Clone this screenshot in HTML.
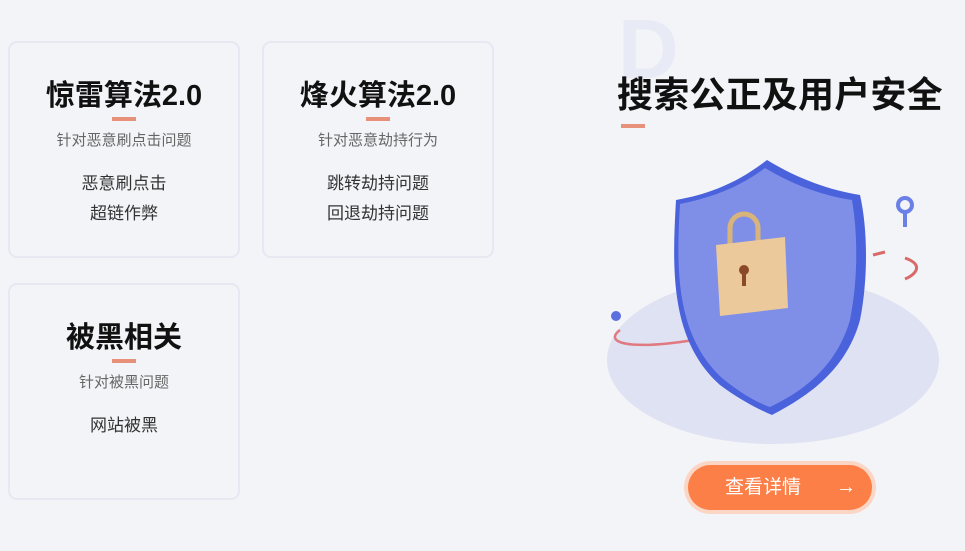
<!DOCTYPE html>
<html><head><meta charset="utf-8"><style>
body{margin:0;width:965px;height:551px;background:#f3f4f8;position:relative;overflow:hidden;font-family:"Liberation Sans","Noto Sans CJK SC",sans-serif}
.card{position:absolute;width:228px;height:213px;border:2px solid #e6e8f2;border-radius:9px;box-sizing:content-box;text-align:center}
.t{position:absolute;left:0;right:0;top:33px;font-size:29px;font-weight:bold;color:#111;line-height:40px}
.u{position:absolute;left:102px;top:74px;width:24px;height:4px;background:#e8917a}
.s{position:absolute;left:0;right:0;top:88px;font-size:15px;color:#666;line-height:20px}
.i{position:absolute;left:0;right:0;top:126px;font-size:17px;color:#333;line-height:30px}
</style></head><body>
<div class="card" style="left:8px;top:41px"><div class="t">惊雷算法2.0</div><div class="u"></div><div class="s">针对恶意刷点击问题</div><div class="i">恶意刷点击<br>超链作弊</div></div>
<div class="card" style="left:262px;top:41px"><div class="t">烽火算法2.0</div><div class="u"></div><div class="s">针对恶意劫持行为</div><div class="i">跳转劫持问题<br>回退劫持问题</div></div>
<div class="card" style="left:8px;top:283px"><div class="t">被黑相关</div><div class="u"></div><div class="s">针对被黑问题</div><div class="i" style="top:126px">网站被黑</div></div>

<div style="position:absolute;left:618px;top:4px;font-size:84px;font-weight:bold;color:#e8eaf5;line-height:90px">D</div>
<div style="position:absolute;left:617px;top:72px;font-size:36px;font-weight:bold;color:#111;line-height:46px;letter-spacing:0.2px">搜索公正及用户安全</div>
<div style="position:absolute;left:621px;top:124px;width:24px;height:4px;background:#e8917a"></div>

<svg style="position:absolute;left:0;top:0" width="965" height="551">
<ellipse cx="773" cy="360" rx="166" ry="84" fill="#dfe2f2"/>
<path d="M620 330 C600 345 640 352 720 335" stroke="#e07a80" stroke-width="2.5" fill="none"/>
<circle cx="616" cy="316" r="5" fill="#5b6fe0"/>
<path d="M767 160 C735 185 705 195 676 200 C672 270 670 340 720 385 C740 400 760 410 772 415 C800 400 845 375 860 320 C868 280 868 230 860 195 C830 190 800 180 767 160Z" fill="#4a62dc"/>
<path d="M765 168 C735 190 708 198 680 204 C676 270 676 335 722 378 C740 393 758 403 770 407 C795 395 835 372 850 320 C858 280 858 235 852 200 C825 196 795 186 765 168Z" fill="#7f8fe8"/>
<path d="M873 255 L885 252 M905 258 C925 265 915 275 905 279" stroke="#d96a6a" stroke-width="3" fill="none"/>
<circle cx="905" cy="205" r="7" fill="none" stroke="#6b80e6" stroke-width="4"/>
<rect x="903" y="211" width="4" height="16" fill="#6b80e6"/>
<path d="M730 245 L730 228 A14 14 0 0 1 758 228 L758 245" stroke="#d9b47a" stroke-width="5" fill="none"/>
<path d="M716 245 L785 237 L788 308 L720 316Z" fill="#ecc99a"/>
<circle cx="744" cy="270" r="5" fill="#8a4a2a"/><rect x="742" y="270" width="4" height="16" fill="#8a4a2a"/>
</svg>

<div style="position:absolute;left:684px;top:461px;width:192px;height:53px;border-radius:27px;background:#fbd6c4"></div>
<div style="position:absolute;left:688px;top:465px;width:184px;height:45px;border-radius:23px;background:#fc7f48;color:#fff;font-size:19px;line-height:45px">
<span style="position:absolute;left:37px">查看详情</span><span style="position:absolute;left:148px;font-size:20px">→</span></div>
</body></html>
